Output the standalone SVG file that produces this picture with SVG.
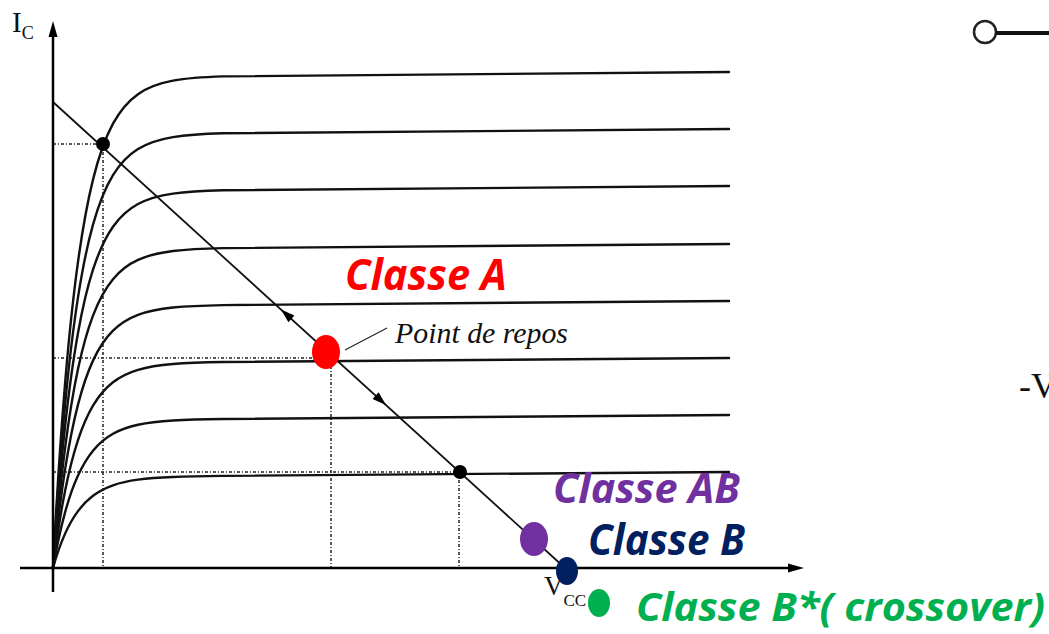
<svg xmlns="http://www.w3.org/2000/svg" xmlns:xlink="http://www.w3.org/1999/xlink" width="1049" height="634" viewBox="0 0 1049 634">
<style>
.curve{fill:none;stroke:#111;stroke-width:2.4;vector-effect:non-scaling-stroke;stroke-linecap:round}
.axis{fill:none;stroke:#000;stroke-width:2.5}
.load{fill:none;stroke:#111;stroke-width:1.8}
.dot{fill:none;stroke:#222;stroke-width:1.5;stroke-dasharray:3 2 1 2}
.arrow{fill:#000}
.serif{font-family:"Liberation Serif","Times New Roman",serif;fill:#111}
.cls{font-family:"Open Sans","Liberation Sans",sans-serif;font-weight:bold;font-style:italic}
</style>
<defs>
<path id="ic" class="curve" d="M0,1 C4,0.8438 8,0.7238 12,0.626 C16.333,0.520 20.667,0.4408 25,0.377 C30,0.3034 35,0.2505 40,0.2096 C46.667,0.155 53.333,0.121 60,0.096 C68.333,0.0648 76.667,0.048 85,0.0362 C96.667,0.0197 108.333,0.0134 120,0.0092 C136.667,0.0032 153.333,0.0021 170,0.0013 L676,0"/>
</defs>
<rect width="1049" height="634" fill="#fff"/>
<g id="guides">
<path class="dot" d="M53,144 H103 M103,144 V568 M53,358 H326 M331,366 V568 M53,472 H460 M459,472 V568"/>
</g>
<g id="curves">
<use xlink:href="#ic" href="#ic" transform="matrix(1,-0.0074,0,491,53,77)"/>
<use xlink:href="#ic" href="#ic" transform="matrix(1,-0.0074,0,434,53,134)"/>
<use xlink:href="#ic" href="#ic" transform="matrix(1,-0.0074,0,377,53,191)"/>
<use xlink:href="#ic" href="#ic" transform="matrix(1,-0.0074,0,319,53,249)"/>
<use xlink:href="#ic" href="#ic" transform="matrix(1,-0.0074,0,262,53,306)"/>
<use xlink:href="#ic" href="#ic" transform="matrix(1,-0.0074,0,205,53,363)"/>
<use xlink:href="#ic" href="#ic" transform="matrix(1,-0.0074,0,148,53,420)"/>
<use xlink:href="#ic" href="#ic" transform="matrix(1,-0.0074,0,91,53,477)"/>
</g>
<g id="connectors">
<line class="load" x1="53" y1="102" x2="565" y2="568"/>
<polygon class="arrow" points="281,309.5 294.4,315.6 288.4,322.2"/>
<polygon class="arrow" points="386,405 372.6,398.9 378.6,392.3"/>
<line x1="345" y1="350" x2="387" y2="328" stroke="#222" stroke-width="1.1"/>
</g>
<g id="axes">
<line class="axis" x1="53" y1="592" x2="53" y2="34"/>
<polygon class="arrow" points="53,21 48.5,37 57.5,37"/>
<line class="axis" x1="20" y1="568" x2="790" y2="568"/>
<polygon class="arrow" points="804,568 788,563.5 788,572.5"/>
</g>
<g id="points">
<circle cx="103" cy="144" r="7" fill="#000"/>
<circle cx="460" cy="472" r="7" fill="#000"/>
<ellipse cx="326" cy="352" rx="14" ry="17" fill="#FF0000"/>
<ellipse cx="534" cy="539" rx="14" ry="17" fill="#7030A0"/>
<text class="serif" x="544" y="595" font-size="27">V<tspan font-size="17" dy="11">CC</tspan></text>
<ellipse cx="567" cy="571" rx="11" ry="14" fill="#002060"/>
<ellipse cx="599" cy="603" rx="11" ry="14" fill="#00B050"/>
</g>
<g id="labels">
<text class="serif" x="12" y="32" font-size="29">I<tspan font-size="18" dy="7">C</tspan></text>
<text class="serif" x="395" y="343" font-size="29" font-style="italic" textLength="173" lengthAdjust="spacingAndGlyphs">Point de repos</text>
<text class="cls" x="345" y="290" font-size="43" fill="#FF0000" textLength="162" lengthAdjust="spacingAndGlyphs">Classe A</text>
<text class="cls" x="553" y="503" font-size="41" fill="#7030A0" textLength="187" lengthAdjust="spacingAndGlyphs">Classe AB</text>
<text class="cls" x="588" y="555" font-size="43" fill="#002060" textLength="157" lengthAdjust="spacingAndGlyphs">Classe B</text>
<text class="cls" x="636" y="621" font-size="39" fill="#00B050" textLength="409" lengthAdjust="spacingAndGlyphs">Classe B*( crossover)</text>
</g>
<g id="circuit">
<circle cx="985" cy="32" r="11" fill="none" stroke="#222" stroke-width="2.5"/>
<line x1="996" y1="33" x2="1049" y2="33" stroke="#111" stroke-width="4"/>
<text class="serif" x="1019" y="398" font-size="36">-V</text>
</g>
</svg>
